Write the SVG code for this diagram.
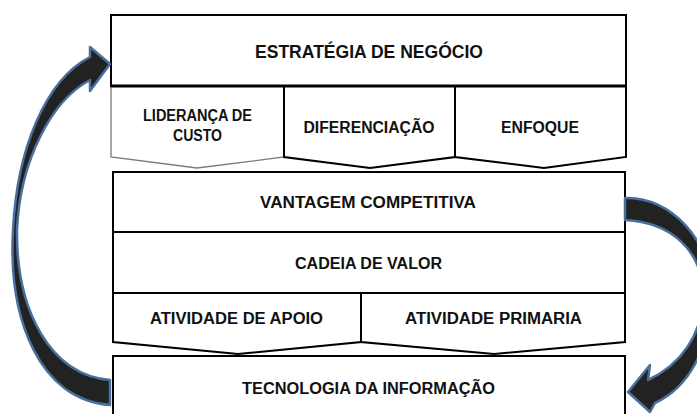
<svg xmlns="http://www.w3.org/2000/svg" width="697" height="414" viewBox="0 0 697 414">
<style>
.box{fill:#fff;stroke:#000;stroke-width:2;stroke-linejoin:miter}
.grey{fill:#fff;stroke:#7a7a7a;stroke-width:1.3}
.t{font-family:"Liberation Sans",Arial,sans-serif;font-weight:bold;font-size:16px;fill:#111;text-anchor:middle}
.arr{fill:#222;stroke:#4a6f9c;stroke-width:2.5;stroke-linejoin:round}
</style>
<rect width="697" height="414" fill="#fff"/>
<g id="lideranca">
<path class="grey" d="M111,86 L284,86 L284,157 L197,168 L111,157 Z"/>
<text class="t" x="197.5" y="121" textLength="109" lengthAdjust="spacingAndGlyphs">LIDERANÇA DE</text>
<text class="t" x="197.5" y="141" textLength="49" lengthAdjust="spacingAndGlyphs">CUSTO</text>
</g>
<g id="diferenciacao">
<path class="box" d="M284,86 L455,86 L455,157 L370,168 L284,157 Z"/>
<text class="t" x="369" y="132.5" textLength="131" lengthAdjust="spacingAndGlyphs">DIFERENCIAÇÃO</text>
</g>
<g id="enfoque">
<path class="box" d="M455,86 L626,86 L626,157 L544,168 L455,157 Z"/>
<text class="t" x="540" y="132.5" textLength="78" lengthAdjust="spacingAndGlyphs">ENFOQUE</text>
</g>
<g id="estrategia">
<rect class="box" x="111" y="15" width="515" height="71"/>
<line x1="111" y1="86" x2="626" y2="86" stroke="#000" stroke-width="3"/>
<text class="t" x="369" y="58" font-size="17.5" style="font-size:17.5px" textLength="228" lengthAdjust="spacingAndGlyphs">ESTRATÉGIA DE NEGÓCIO</text>
</g>
<g id="vantagem">
<rect class="box" x="113" y="172" width="512" height="60"/>
<text class="t" x="368" y="208" textLength="216" lengthAdjust="spacingAndGlyphs">VANTAGEM COMPETITIVA</text>
</g>
<g id="cadeia">
<rect class="box" x="113" y="232" width="512" height="61"/>
<text class="t" x="368.5" y="269" textLength="147" lengthAdjust="spacingAndGlyphs">CADEIA DE VALOR</text>
</g>
<g id="apoio">
<path class="box" d="M113,293 L361,293 L361,342 L238,354 L113,342 Z"/>
<text class="t" x="236.5" y="324" textLength="173" lengthAdjust="spacingAndGlyphs">ATIVIDADE DE APOIO</text>
</g>
<g id="primaria">
<path class="box" d="M361,293 L625,293 L625,342 L494,354 L361,342 Z"/>
<text class="t" x="493.5" y="324" textLength="177" lengthAdjust="spacingAndGlyphs">ATIVIDADE PRIMARIA</text>
</g>
<g id="tecnologia">
<rect class="box" x="113" y="356" width="512" height="70"/>
<text class="t" x="368.5" y="394" textLength="253" lengthAdjust="spacingAndGlyphs">TECNOLOGIA DA INFORMAÇÃO</text>
</g>
<g id="connectors">
<path class="arr" d="M110,405 C40,400 8,320 13,230 C17,150 45,80 90,57 L90,47 L110,64 L90,91 L90,80 C52,100 20,160 17,230 C16,310 50,375 110,380 Z"/>
<path class="arr" d="M625,198 C670,196 712,240 712,295 C712,335 695,385 655,403 L650,412 L628,392 L650,365 L648,380 C680,365 703,335 703,295 C703,250 670,222 625,220 Z"/>
</g>
</svg>
